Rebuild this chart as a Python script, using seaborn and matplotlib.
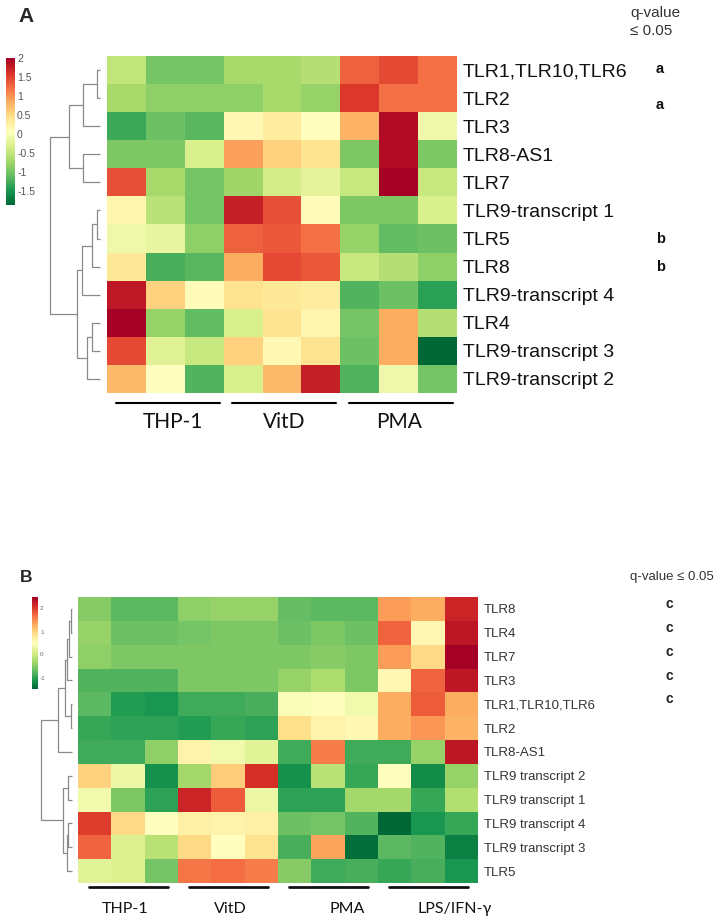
import matplotlib
matplotlib.use('Agg')
import matplotlib.pyplot as plt
import matplotlib.transforms as mtransforms
import seaborn as sns
import pandas as pd
import numpy as np

# ---- panel A data (rows in displayed, clustered order) ----
genes_a = ['TLR1,TLR10,TLR6', 'TLR2', 'TLR3', 'TLR8-AS1', 'TLR7',
           'TLR9-transcript 1', 'TLR5', 'TLR8', 'TLR9-transcript 4',
           'TLR4', 'TLR9-transcript 3', 'TLR9-transcript 2']
samples_a = ['THP-1 r1', 'THP-1 r2', 'THP-1 r3', 'VitD r1', 'VitD r2', 'VitD r3',
             'PMA r1', 'PMA r2', 'PMA r3']
values_a = [
    [-0.5, -1.0, -1.0, -0.7, -0.7, -0.6, 1.3, 1.45, 1.2],
    [-0.7, -0.85, -0.85, -0.85, -0.7, -0.8, 1.55, 1.2, 1.2],
    [-1.3, -1.05, -1.15, 0.15, 0.3, 0.07, 0.8, 1.9, -0.1],
    [-0.95, -0.95, -0.3, 0.92, 0.55, 0.4, -0.95, 1.9, -0.95],
    [1.4, -0.7, -1.0, -0.75, -0.35, -0.2, -0.45, 2.0, -0.45],
    [0.2, -0.55, -1.0, 1.75, 1.4, 0.1, -0.95, -0.95, -0.3],
    [-0.1, -0.15, -0.85, 1.3, 1.35, 1.2, -0.8, -1.1, -1.05],
    [0.35, -1.25, -1.15, 0.85, 1.45, 1.35, -0.45, -0.6, -0.85],
    [1.8, 0.55, 0.1, 0.4, 0.35, 0.3, -1.2, -1.05, -1.4],
    [2.0, -0.8, -1.1, -0.3, 0.4, 0.2, -1.0, 0.85, -0.6],
    [1.45, -0.25, -0.45, 0.55, 0.15, 0.4, -1.05, 0.85, -1.87],
    [0.75, 0.05, -1.2, -0.3, 0.75, 1.75, -1.2, -0.1, -1.0],
]
groups_a = ['THP-1', 'VitD', 'PMA']
# row dendrogram: (child, child, height), new clusters numbered from 12
links_a = [(0, 1, 3.3), (5, 6, 3.3), (13, 7, 7.7), (9, 10, 8.3), (15, 11, 12.7),
           (12, 2, 16.7), (3, 4, 16.7), (14, 8, 18.3), (19, 16, 23.3),
           (17, 18, 31.0), (21, 20, 50.0)]
sig_a = ['a', 'a', 'b', 'b']
sig_rows_a = [0, 1, 6, 7]
cbar_ticks_a = [2, 1.5, 1, 0.5, 0, -0.5, -1, -1.5]

# ---- panel B data ----
genes_b = ['TLR8', 'TLR4', 'TLR7', 'TLR3', 'TLR1,TLR10,TLR6', 'TLR2', 'TLR8-AS1',
           'TLR9 transcript 2', 'TLR9 transcript 1', 'TLR9 transcript 4',
           'TLR9 transcript 3', 'TLR5']
samples_b = samples_a + ['LPS/IFN-γ r1', 'LPS/IFN-γ r2', 'LPS/IFN-γ r3']
values_b = [
    [-0.5, -0.75, -0.75, -0.45, -0.4, -0.4, -0.7, -0.75, -0.75, 1.4, 1.3, 2.2],
    [-0.4, -0.65, -0.65, -0.6, -0.55, -0.55, -0.65, -0.55, -0.65, 1.75, 0.6, 2.3],
    [-0.45, -0.55, -0.55, -0.55, -0.55, -0.55, -0.55, -0.5, -0.55, 1.4, 0.95, 2.5],
    [-0.8, -0.8, -0.8, -0.55, -0.55, -0.55, -0.4, -0.25, -0.55, 0.6, 1.75, 2.3],
    [-0.75, -1.05, -1.1, -0.9, -0.9, -0.85, 0.45, 0.5, 0.35, 1.3, 1.8, 1.3],
    [-0.95, -1.0, -1.0, -1.05, -0.95, -1.0, 0.9, 0.65, 0.6, 1.3, 1.45, 1.25],
    [-0.9, -0.9, -0.45, 0.65, 0.35, 0.2, -0.9, 1.6, -0.9, -0.9, -0.4, 2.3],
    [1.0, 0.3, -1.15, -0.3, 1.05, 2.1, -1.15, -0.15, -0.95, 0.5, -1.2, -0.4],
    [0.35, -0.55, -1.0, 2.2, 1.8, 0.3, -1.0, -1.0, -0.3, -0.3, -0.95, -0.2],
    [2.0, 0.95, 0.5, 0.7, 0.65, 0.7, -0.65, -0.6, -0.8, -1.5, -1.1, -0.95],
    [1.75, 0.15, -0.15, 0.95, 0.5, 0.85, -0.85, 1.35, -1.45, -0.75, -0.8, -1.3],
    [0.2, 0.15, -0.6, 1.65, 1.7, 1.6, -0.5, -0.9, -0.85, -0.95, -0.85, -1.1],
]
groups_b = ['THP-1', 'VitD', 'PMA', 'LPS/IFN-γ']
links_b = [(0, 1, 0.7), (4, 5, 0.7), (12, 2, 2.7), (7, 8, 3.3), (9, 10, 4.0),
           (14, 3, 5.0), (16, 11, 5.0), (17, 13, 6.7), (15, 18, 9.0),
           (19, 6, 13.3), (21, 20, 30.7)]
sig_b = ['c', 'c', 'c', 'c', 'c']
sig_rows_b = [0, 1, 2, 3, 4]
cbar_ticks_b = [2, 1, 0, -1]

# ---- layout helpers (pixel boxes on a 723x921 canvas) ----
W, H = 723, 921


def box(x0, y0, x1, y1):
    return [x0 / W, 1 - y1 / H, (x1 - x0) / W, (y1 - y0) / H]


def draw_dendro(ax, links, n):
    pos = {i: (i + 0.5, 0.0) for i in range(n)}
    for k, (a, b, h) in enumerate(links):
        ya, ha = pos[a]
        yb, hb = pos[b]
        ax.plot([ha, h, h, hb], [ya, ya, yb, yb], color='#8a8a8a', lw=0.9,
                clip_on=False, solid_capstyle='butt')
        pos[n + k] = ((ya + yb) / 2, h)
    ax.set_ylim(n, 0)
    ax.set_xlim(max(l[2] for l in links), 0)
    ax.axis('off')


def fmt(v):
    return '%g' % v


sans = ['Liberation Sans', 'DejaVu Sans']
group_font = ['Lato', 'DejaVu Sans']

sns.set_theme(style='white')
plt.rcParams['font.family'] = sans

fig = plt.figure(figsize=(7.23, 9.21), dpi=100)

# ================= panel A =================
df_a = pd.DataFrame(values_a, index=genes_a, columns=samples_a)
ax_a = fig.add_axes(box(107, 56, 457, 393))
cax_a = fig.add_axes(box(6.5, 58, 15, 205))
dax_a = fig.add_axes(box(50, 56, 100, 393))

sns.heatmap(df_a, ax=ax_a, cmap='RdYlGn_r', vmin=-1.87, vmax=2.0,
            cbar_ax=cax_a, xticklabels=False, yticklabels=True)
ax_a.yaxis.tick_right()
ax_a.tick_params(axis='y', length=0, pad=4, labelsize=14, labelrotation=0,
                 labelcolor='#111111')
ax_a.set_xlabel('')
ax_a.set_ylabel('')
cb = ax_a.collections[0].colorbar
cb.set_ticks(cbar_ticks_a)
cb.set_ticklabels([fmt(t) for t in cbar_ticks_a])
cb.outline.set_visible(False)
cax_a.tick_params(length=0, labelsize=7.5, labelcolor='#555555', pad=1.5)

draw_dendro(dax_a, links_a, len(genes_a))

for g, name in enumerate(groups_a):
    ax_a.plot([g * 3 + 0.22, g * 3 + 2.9], [12.36, 12.36], color='black',
              lw=1.5, clip_on=False)
label_x_a = [1.7, 4.55, 7.5]
for name, x in zip(groups_a, label_x_a):
    ax_a.text(x, 13.02, name, ha='center', va='center', fontsize=15,
              family=group_font, color='#111111', clip_on=False)

fig.text(18 / W, 1 - 17 / H, 'A', fontsize=15, fontweight='bold',
         va='center', ha='left', family=sans)
fig.text(630 / W, 1 - 13 / H, 'q-value', fontsize=11, va='center',
         ha='left', color='#333333', family=sans)
fig.text(630 / W, 1 - 31 / H, '≤ 0.05', fontsize=11, va='center',
         ha='left', color='#333333', family=sans)
tr_a = mtransforms.blended_transform_factory(fig.transFigure, ax_a.transData)
sig_off_a = [-0.05, 0.25, 0.0, 0.0]
for s, r, o in zip(sig_a, sig_rows_a, sig_off_a):
    ax_a.text(656 / W, r + 0.5 + o, s, transform=tr_a, fontsize=10.5,
              fontweight='bold', va='center', ha='left', color='#111111',
              clip_on=False)

# ================= panel B =================
df_b = pd.DataFrame(values_b, index=genes_b, columns=samples_b)
ax_b = fig.add_axes(box(78, 597, 478, 883))
cax_b = fig.add_axes(box(32, 597, 38, 689))
dax_b = fig.add_axes(box(41, 597, 71.7, 883))

sns.heatmap(df_b, ax=ax_b, cmap='RdYlGn_r', vmin=-1.5, vmax=2.5,
            cbar_ax=cax_b, xticklabels=False, yticklabels=True)
ax_b.yaxis.tick_right()
ax_b.tick_params(axis='y', length=0, pad=4, labelsize=9.5, labelrotation=0,
                 labelcolor='#333333')
ax_b.set_xlabel('')
ax_b.set_ylabel('')
cb = ax_b.collections[0].colorbar
cb.set_ticks(cbar_ticks_b)
cb.set_ticklabels([fmt(t) for t in cbar_ticks_b])
cb.outline.set_visible(False)
cax_b.tick_params(length=0, labelsize=4.5, labelcolor='#666666', pad=1.5)

draw_dendro(dax_b, links_b, len(genes_b))

for g, name in enumerate(groups_b):
    ax_b.plot([g * 3 + 0.34, g * 3 + 2.7], [12.17, 12.17], color='#111111',
              lw=2, clip_on=False)
label_x_b = [1.41, 4.56, 8.08, 11.29]
for name, x in zip(groups_b, label_x_b):
    ax_b.text(x, 13.1, name, ha='center', va='center', fontsize=11.5,
              family=group_font, color='#111111', clip_on=False)

fig.text(20 / W, 1 - 578 / H, 'B', fontsize=12.5, fontweight='bold',
         va='center', ha='left', family=sans)
fig.text(630 / W, 1 - 577 / H, 'q-value ≤ 0.05', fontsize=9.5, va='center',
         ha='left', color='#333333', family=sans)
tr_b = mtransforms.blended_transform_factory(fig.transFigure, ax_b.transData)
for s, r in zip(sig_b, sig_rows_b):
    ax_b.text(665 / W, r + 0.3, s, transform=tr_b, fontsize=10,
              fontweight='bold', va='center', ha='left', color='#222222',
              clip_on=False)

fig.savefig('out.png', dpi=100)
